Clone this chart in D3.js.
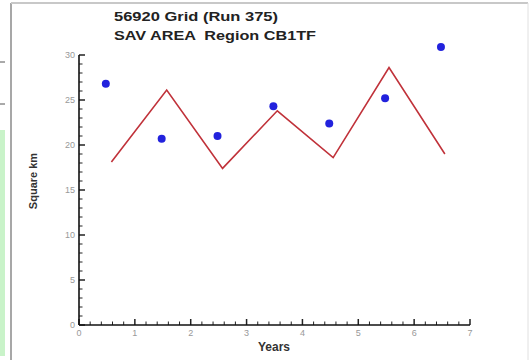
<!DOCTYPE html>
<html>
<head>
<meta charset="utf-8">
<script src="https://cdn.jsdelivr.net/npm/d3@7"></script>
<style>
  body { margin: 0; background: #fff; }
  svg { display: block; font-family: Arial, "Liberation Sans", sans-serif; }
</style>
</head>
<body>
<div id="chart"></div>
<script>
// observed SAV area (dots)
const obsYears = [0.48, 1.48, 2.48, 3.48, 4.48, 5.48, 6.48];
const obsArea = [26.8, 20.7, 21.0, 24.3, 22.4, 25.2, 30.9];

// model SAV area (line)
const modelYears = [0.58, 1.57, 2.57, 3.55, 4.55, 5.55, 6.55];
const modelArea = [18.1, 26.1, 17.4, 23.8, 18.6, 28.6, 19.0];

const xTicks = [0, 1, 2, 3, 4, 5, 6, 7];
const yTicks = [0, 5, 10, 15, 20, 25, 30];

const titleLines = ["56920 Grid (Run 375)", "SAV AREA  Region CB1TF"];

function createChart() {
  const width = 531,
    height = 360,
    margin = { "top": 55, "bottom": 35, "right": 61, "left": 79 }

  const svg = d3.select("#chart").append("svg")
    .attr("width", width)
    .attr("height", height)

  // window frame bits from the screenshot
  svg.append("rect").attr("x", 0).attr("y", 130).attr("width", 5).attr("height", 226).attr("fill", "#c9f3c9")
  svg.append("line").attr("x1", 11).attr("y1", 3).attr("x2", 11).attr("y2", height).attr("stroke", "#8a8a8a").attr("stroke-width", 1.5)
  svg.append("line").attr("x1", 11).attr("y1", 3).attr("x2", 528).attr("y2", 3).attr("stroke", "#c8c8c8").attr("stroke-width", 2)
  svg.append("line").attr("x1", 528).attr("y1", 3).attr("x2", 528).attr("y2", height).attr("stroke", "#e0e0e0").attr("stroke-width", 1)
  svg.selectAll("line.dash")
    .data([62, 104])
    .enter()
    .append("line")
    .attr("class", "dash")
    .attr("x1", 0).attr("x2", 5)
    .attr("y1", d => d).attr("y2", d => d)
    .attr("stroke", "#555")

  let x = d3.scaleLinear().domain([0, 7]).range([margin.left, width - margin.right])
  let y = d3.scaleLinear().domain([0, 30]).range([height - margin.bottom, margin.top])

  // minor ticks
  let g = svg.append("g")
  g.selectAll("line.xminor")
    .data(d3.range(0, 7.001, 0.2))
    .enter()
    .append("line")
    .attr("x1", d => x(d)).attr("x2", d => x(d))
    .attr("y1", y(0)).attr("y2", d => y(0) - (Math.abs(d - Math.round(d)) < 1e-6 ? 6 : 3.5))
    .attr("stroke", "#222").attr("stroke-width", d => Math.abs(d - Math.round(d)) < 1e-6 ? 1.5 : 1)
  g.selectAll("line.yminor")
    .data(d3.range(0, 30.001, 1))
    .enter()
    .append("line")
    .attr("y1", d => y(d)).attr("y2", d => y(d))
    .attr("x1", x(0)).attr("x2", d => x(0) + (d % 5 === 0 ? 6 : 3.5))
    .attr("stroke", "#222").attr("stroke-width", d => d % 5 === 0 ? 1.5 : 1)

  // axis lines
  g.append("line").attr("x1", x(0)).attr("x2", x(7)).attr("y1", y(0)).attr("y2", y(0)).attr("stroke", "#111").attr("stroke-width", 1.6)
  g.append("line").attr("x1", x(0)).attr("x2", x(0)).attr("y1", y(0)).attr("y2", y(30)).attr("stroke", "#111").attr("stroke-width", 1.6)

  // tick labels
  g.selectAll("text.xl")
    .data(xTicks)
    .enter()
    .append("text")
    .text(d => d)
    .attr("x", d => x(d))
    .attr("y", y(0) + 11)
    .attr("text-anchor", "middle")
    .attr("font-size", 9)
    .attr("fill", "#999")
  g.selectAll("text.yl")
    .data(yTicks)
    .enter()
    .append("text")
    .text(d => d)
    .attr("x", x(0) - 4)
    .attr("y", d => y(d) + 3)
    .attr("text-anchor", "end")
    .attr("font-size", 9)
    .attr("fill", "#999")

  // axis titles
  svg.append("text")
    .text("Years")
    .attr("x", 274).attr("y", 351)
    .attr("text-anchor", "middle")
    .attr("font-size", 12).attr("font-weight", "bold").attr("fill", "#333")
  svg.append("text")
    .text("Square km")
    .attr("transform", "translate(37,181) rotate(-90)")
    .attr("text-anchor", "middle")
    .attr("font-size", 11).attr("font-weight", "bold").attr("fill", "#333")

  // title (stretched wide like the source)
  const titleWidths = [164, 202]
  svg.selectAll("text.title")
    .data(titleLines)
    .enter()
    .append("text")
    .text(d => d)
    .style("white-space", "pre")
    .attr("x", 114)
    .attr("y", (d, i) => 21 + i * 18.5)
    .attr("textLength", (d, i) => titleWidths[i])
    .attr("lengthAdjust", "spacingAndGlyphs")
    .attr("font-size", 13).attr("font-weight", "bold").attr("fill", "#222")

  // model line
  let line = d3.line().x(d => x(d[0])).y(d => y(d[1]))
  svg.append("path")
    .attr("d", line(d3.zip(modelYears, modelArea)))
    .attr("fill", "none")
    .attr("stroke", "#c0323a")
    .attr("stroke-width", 1.6)

  // observed dots
  svg.selectAll("circle")
    .data(d3.zip(obsYears, obsArea))
    .enter()
    .append("circle")
    .attr("cx", d => x(d[0]))
    .attr("cy", d => y(d[1]))
    .attr("r", 4)
    .attr("fill", "#2222dd")
}

createChart()
</script>
</body>
</html>
